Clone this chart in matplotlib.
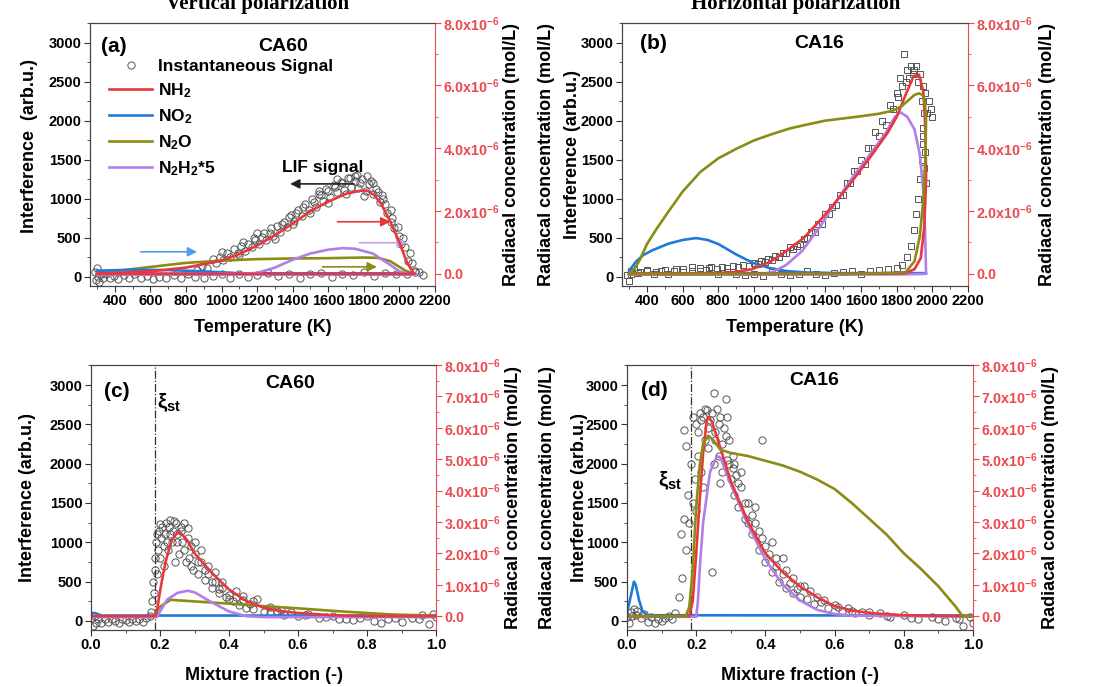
import matplotlib
matplotlib.use('Agg')
import numpy as np
import matplotlib.pyplot as plt
from matplotlib.ticker import MultipleLocator, FuncFormatter
from matplotlib.lines import Line2D

plt.rcParams['font.family'] = ['Liberation Sans', 'DejaVu Sans']
plt.rcParams['font.weight'] = 'bold'
plt.rcParams['axes.labelweight'] = 'bold'
plt.rcParams['mathtext.fontset'] = 'custom'
plt.rcParams['mathtext.rm'] = 'Liberation Sans:bold'
plt.rcParams['mathtext.bf'] = 'Liberation Sans:bold'
plt.rcParams['mathtext.it'] = 'Liberation Sans:bold:italic'
plt.rcParams['mathtext.default'] = 'bf'

UNIT = 1e-6  # radical concentrations below are in 1e-6 mol/L

C_NH2 = '#e8383d'
C_NO2 = '#1f7ad8'
C_N2O = '#8a8c14'
C_N2H2 = '#b27fe6'
C_RIGHT = '#ec4a50'

# ---------------- (a) CA60 vs temperature ----------------
a_sig_T = [290, 295, 300, 305, 310, 320, 335, 350, 370, 395, 420, 450, 480, 510, 545, 580, 615, 650, 690,
           730, 770, 810, 850, 900, 950, 1000, 1050, 1100, 1150, 1200, 1260, 1320, 1380, 1440, 1500, 1560,
           1620, 1680, 1740, 1800, 1860, 1920, 1980, 2040, 2090, 2110, 2130,
           860, 890, 920, 950, 970, 990, 1010, 1030, 1050, 1070, 1090, 1110, 1130, 1150, 1170, 1190, 1210,
           1230, 1250, 1270, 1290, 1310, 1330, 1350, 1370, 1390, 1410, 1430, 1450, 1470, 1490, 1510, 1530,
           1550, 1570, 1590, 1610, 1630, 1650, 1670, 1690, 1710, 1730, 1750, 1770, 1790, 1810, 1830, 1850,
           1870, 1890, 1910, 1930, 1950, 1970, 1990, 2010, 2030, 2050, 2070, 2090,
           1000, 1100, 1200, 1300, 1400, 1500, 1550, 1600, 1650, 1700, 1750, 1800, 1850, 1900, 1950, 2000,
           1120, 1180, 1240, 1280, 1340, 1380, 1420, 1460, 1520, 1560, 1600, 1640, 1680, 1720, 1760, 1780,
           1820, 1840, 1880, 1920, 1960, 2020, 2060]
a_sig_S = [60, -40, 110, 0, -70, 30, -20, 40, -10, 10, -30, 20, -20, 30, -10, 10, -30, 0, -20,
           20, -10, 30, 0, -20, 10, 30, -10, 40, 0, 20, 50, 10, 40, -10, 30, 50,
           0, 40, 20, 60, 10, 50, 30, 40, 80, 60, 20,
           90, 140, 110, 230, 180, 260, 210, 300, 260, 350, 300, 390, 330, 420, 380, 470, 420,
           510, 470, 560, 520, 650, 580, 700, 640, 790, 720, 860, 780, 930, 850, 1000, 900,
           1060, 970, 1120, 1020, 1170, 1080, 1220, 1110, 1260, 1150, 1230, 1140, 1250, 1100, 1190, 1060,
           1130, 960, 1000, 820, 850, 620, 640, 420, 380, 200, 180, 60,
           320, 280, 560, 480, 680, 820, 1100, 950, 1250, 1060, 1290, 1030, 1200, 1050, 700, 520,
           440, 500, 560, 620, 680, 760, 820, 900, 960, 1050, 1100, 1150, 1200, 1270, 1300, 1200,
           1290, 1230, 1080, 930, 750, 500, 300]

a_nh2_T = [300, 600, 800, 1000, 1100, 1200, 1300, 1400, 1500, 1600, 1700, 1780, 1820, 1860, 1900, 1950,
           2000, 2040, 2070, 2085, 1500, 300]
a_nh2_R = [0.0, 0.08, 0.2, 0.42, 0.63, 0.9, 1.23, 1.6, 2.0, 2.3, 2.55, 2.65, 2.65, 2.5, 2.2, 1.65,
           1.0, 0.4, 0.1, 0.0, 0.0, 0.0]
a_no2_T = [300, 500, 700, 900, 1100, 1300, 2085, 300]
a_no2_R = [0.1, 0.13, 0.12, 0.08, 0.02, 0.0, 0.0, 0.0]
a_n2o_T = [300, 450, 600, 800, 1000, 1200, 1400, 1600, 1800, 1880, 1950, 2000, 2050, 2085, 300]
a_n2o_R = [0.02, 0.12, 0.22, 0.35, 0.42, 0.47, 0.49, 0.5, 0.52, 0.51, 0.4, 0.22, 0.05, 0.0, 0.0]
a_n2h2_T = [300, 1100, 1200, 1300, 1400, 1500, 1600, 1680, 1750, 1850, 1950, 2000, 2050, 2100, 300]
a_n2h2_R = [0.0, 0.0, 0.03, 0.2, 0.45, 0.65, 0.77, 0.82, 0.8, 0.65, 0.28, 0.08, 0.0, -0.02, -0.02]

# ---------------- (b) CA16 vs temperature ----------------
b_sig_T = [290, 300, 310, 330, 360, 400, 440, 480, 520, 560, 600, 650, 700, 750, 800, 850, 900, 950, 1000,
           1050, 1100, 1150, 1200, 1250, 1300, 1350, 1400, 1450, 1500, 1550, 1600, 1650, 1700, 1750, 1800,
           1830, 1860, 1880, 1900, 1910, 1920, 1930, 1940, 1945, 1950, 1955,
           2000, 1990, 1980, 1970, 1960, 1950, 1940, 1930, 1920, 1910, 1900, 1890, 1880, 1870, 1860, 1850,
           1840, 1830, 1820, 1810, 1800, 1780, 1760, 1740, 1720, 1700, 1680, 1660, 1640, 1620, 1600, 1580,
           1560, 1540, 1520, 1500, 1480, 1460, 1440, 1420, 1400, 1380, 1360, 1340, 1320, 1300, 1280, 1260,
           1240, 1220, 1200, 1180, 1160, 1140, 1120, 1100, 1080, 1060, 1040, 1020, 1000, 970, 940, 910, 880,
           850, 820, 790, 760, 730, 700, 650, 600, 550, 500, 450, 400, 350, 310,
           1965, 1960, 1955, 1945]
b_sig_S = [20, -60, 80, 100, 60, 90, 30, 80, 40, 100, 60, 120, 80, 110, 40, 60, 30, 20, 40,
           10, 60, 40, 20, 30, 70, 40, 20, 50, 60, 80, 40, 70, 90, 100, 110,
           150, 250, 400, 600, 800, 1000, 1250, 1500, 1700, 1900, 2100,
           2050, 2150, 2250, 2100, 2350, 2450, 2250, 2600, 2500, 2700, 2650, 2600, 2700, 2550, 2650, 2500,
           2850, 2450, 2550, 2300, 2350, 2150, 2200, 1950, 2000, 1800, 1850, 1650, 1650, 1450, 1500, 1350,
           1350, 1200, 1200, 1050, 1050, 920, 900, 800, 800, 680, 680, 580, 580, 500, 480, 420,
           400, 350, 380, 300, 300, 260, 270, 220, 230, 190, 200, 160, 180, 140, 150, 120, 140,
           110, 130, 100, 120, 90, 110, 80, 100, 70, 90, 60, 80, 50, 30,
           1200, 1600, 1400, 1800]

b_nh2_T = [300, 1000, 1600, 1850, 1900, 1935, 1955, 1965, 1962, 1950, 1925, 1895, 1850, 1800, 1750, 1650,
           1550, 1460, 1370, 1280, 1180, 1090, 990, 900, 800, 600, 300]
b_nh2_R = [0.0, 0.0, 0.0, 0.02, 0.15, 0.5, 1.5, 3.0, 4.5, 5.8, 6.35, 6.3, 5.7, 5.0, 4.5, 3.7,
           2.95, 2.3, 1.7, 1.15, 0.72, 0.38, 0.15, 0.06, 0.02, 0.0, 0.0]
b_no2_T = [300, 340, 380, 430, 520, 600, 675, 740, 800, 900, 990, 1085, 1180, 1300, 1500, 1965, 1500, 1000, 300]
b_no2_R = [0.1, 0.4, 0.6, 0.75, 0.96, 1.08, 1.14, 1.08, 0.95, 0.62, 0.36, 0.19, 0.09, 0.04, 0.02, 0.02,
           0.02, 0.02, 0.02]
b_n2o_T = [300, 1000, 1600, 1850, 1900, 1930, 1950, 1962, 1965, 1958, 1945, 1925, 1900, 1870, 1830,
           1780, 1700, 1600, 1500, 1400, 1300, 1200, 1100, 1000, 900, 800, 700, 600, 520, 450, 400, 360,
           330, 300]
b_n2o_R = [0.0, 0.0, 0.0, 0.05, 0.4, 1.2, 2.4, 3.8, 5.0, 5.5, 5.7, 5.75, 5.7, 5.55, 5.35,
           5.2, 5.1, 5.02, 4.95, 4.88, 4.76, 4.63, 4.45, 4.25, 3.98, 3.68, 3.25, 2.62, 1.98, 1.4, 0.95, 0.45,
           0.15, 0.02]
b_n2h2_T = [300, 1000, 1050, 1100, 1180, 1270, 1370, 1460, 1550, 1650, 1740, 1790, 1820, 1860, 1900,
            1930, 1950, 1960, 1965, 1800, 300]
b_n2h2_R = [-0.02, -0.02, 0.0, 0.05, 0.28, 0.73, 1.5, 2.3, 3.05, 3.8, 4.5, 5.0, 5.15, 5.0, 4.6,
            3.8, 2.6, 1.2, 0.0, -0.02, -0.02]

# ---------------- (c) CA60 vs mixture fraction ----------------
c_sig_Z = [0.0, 0.005, 0.01, 0.015, 0.02, 0.03, 0.04, 0.05, 0.06, 0.07, 0.08, 0.09, 0.1, 0.11, 0.12, 0.13,
           0.14, 0.15, 0.16, 0.17, 0.175,
           0.178, 0.18, 0.182, 0.184, 0.186, 0.188, 0.19, 0.193, 0.196, 0.2, 0.203, 0.206, 0.21, 0.214, 0.218,
           0.222, 0.226, 0.23, 0.234, 0.238, 0.242, 0.246, 0.25, 0.255, 0.26, 0.265, 0.27, 0.275, 0.28, 0.285,
           0.29, 0.295, 0.3, 0.31, 0.32, 0.33, 0.34, 0.35, 0.36, 0.37, 0.38, 0.39, 0.4, 0.41, 0.42, 0.43, 0.44,
           0.45, 0.46, 0.47, 0.48, 0.5, 0.52, 0.54, 0.56, 0.58, 0.6, 0.63, 0.66, 0.7, 0.74, 0.78, 0.82, 0.86,
           0.9, 0.93, 0.96, 0.98, 1.0,
           0.21, 0.23, 0.25, 0.27, 0.29, 0.31, 0.33, 0.35, 0.37, 0.4,
           0.19, 0.2, 0.22, 0.24, 0.26, 0.28, 0.3, 0.32, 0.34, 0.36, 0.38, 0.42, 0.44, 0.47, 0.52, 0.55,
           0.62, 0.68, 0.72, 0.76, 0.8, 0.84, 0.88, 0.95, 0.99]
c_sig_S = [40, -60, 60, -20, 30, -30, 20, -10, 30, 0, -20, 20, 10, -10, 30, 0,
           20, -10, 40, 60, 120,
           250, 500, 350, 800, 650, 1000, 600, 900, 1150, 800, 1050, 1200, 700, 1100, 1250,
           900, 1200, 1280, 1000, 1150, 750, 1250, 1100, 850, 1200, 1000, 1240, 750, 1050, 800,
           950, 650, 850, 600, 750, 520, 600, 420, 500, 350, 420, 300, 330, 250, 300, 200, 260,
           170, 220, 150, 280, 120, 100, 130, 80, 110, 60, 90, 40, 60, 20, 40, 0, 30,
           -10, 40, 80, -40, 50,
           950, 1100, 1000, 900, 700, 750, 650, 500, 400, 280,
           1100, 1230, 1000, 1270, 1150, 1180, 1000, 900, 700, 620, 500, 380, 320, 250, 180, 140,
           70, 50, 30, 10, 60, -20, 40, 20, 90]

c_nh2_Z = [0.0, 0.185, 0.19, 0.2, 0.21, 0.22, 0.235, 0.25, 0.26, 0.28, 0.3, 0.35, 0.4, 0.45, 0.5, 0.55, 0.6, 0.7, 0.8, 1.0]
c_nh2_R = [0.0, 0.0, 0.1, 0.8, 1.4, 1.9, 2.45, 2.65, 2.65, 2.4, 2.0, 1.38, 0.85, 0.48, 0.27, 0.16, 0.1, 0.03, 0.0, 0.0]
c_no2_Z = [0.0, 0.01, 0.02, 0.03, 1.0]
c_no2_R = [0.1, 0.1, 0.06, 0.02, 0.02]
c_n2o_Z = [0.0, 0.18, 0.2, 0.23, 0.3, 0.4, 0.5, 0.6, 0.7, 0.8, 0.88, 1.0]
c_n2o_R = [0.0, 0.0, 0.3, 0.52, 0.47, 0.4, 0.32, 0.25, 0.17, 0.1, 0.05, 0.02]
c_n2h2_Z = [0.0, 0.19, 0.2, 0.22, 0.25, 0.28, 0.3, 0.35, 0.4, 0.45, 0.5, 1.0]
c_n2h2_R = [-0.03, -0.03, 0.15, 0.52, 0.74, 0.81, 0.76, 0.44, 0.15, 0.0, -0.03, -0.03]

# ---------------- (d) CA16 vs mixture fraction ----------------
d_sig_Z = [0.0, 0.005, 0.01, 0.015, 0.02, 0.025, 0.03, 0.04, 0.05, 0.06, 0.07, 0.08, 0.09, 0.1, 0.11, 0.12,
           0.13, 0.14, 0.15, 0.155, 0.16, 0.165, 0.17, 0.175, 0.18, 0.185, 0.19, 0.165, 0.17,
           0.19, 0.195, 0.2, 0.205, 0.21, 0.215, 0.22, 0.225, 0.23, 0.235, 0.24, 0.245, 0.25, 0.255, 0.26,
           0.265, 0.27, 0.275, 0.28, 0.285, 0.29, 0.295, 0.3, 0.305, 0.31, 0.315, 0.32, 0.33, 0.34, 0.35, 0.36,
           0.37, 0.38, 0.39, 0.4, 0.41, 0.42, 0.43, 0.44, 0.45, 0.46, 0.47, 0.48, 0.49, 0.5, 0.52, 0.54, 0.56,
           0.58, 0.6, 0.62, 0.64, 0.66, 0.68, 0.7, 0.73, 0.76, 0.8, 0.84, 0.88, 0.92, 0.95, 0.97, 0.99, 1.0,
           0.2, 0.22, 0.25, 0.27, 0.29, 0.31, 0.33, 0.35, 0.37, 0.39, 0.42, 0.45, 0.48, 0.51, 0.55,
           0.205, 0.215, 0.225, 0.235, 0.245, 0.255, 0.265, 0.275, 0.285, 0.295, 0.305, 0.32, 0.34, 0.36,
           0.38, 0.4, 0.43, 0.46, 0.5, 0.53, 0.57, 0.61, 0.65, 0.7, 0.75, 0.82, 0.9, 0.96]
d_sig_S = [50, -20, 120, 60, 150, 80, 130, 40, 90, -10, 50, -30, 30, 0, 40, 60,
           20, 100, 300, 1100, 550, 1300, 900, 1600, 1250, 2000, 1500, 2430, 2220,
           2600, 1800, 2500, 2100, 2650, 1900, 2600, 2300, 2680, 2200, 2550, 620, 2900, 2400, 2700,
           2100, 2600, 1900, 2450, 2820, 2050, 2300, 1800, 2100, 1600, 1850, 1450, 1700, 1300, 1500, 1100,
           1250, 900, 1050, 750, 850, 620, 700, 500, 600, 420, 480, 350, 400, 300, 280, 220, 240,
           170, 200, 130, 160, 100, 120, 80, 100, 50, 70, 20, 50, 0, 40, -60, 50, -20,
           1400, 1700, 2000, 1750, 2600, 2000, 1900, 1250, 1450, 2300, 1000, 800, 550, 450, 300,
           2400, 2550, 2700, 2450, 2650, 2300, 2500, 2250, 2350, 2000, 1950, 1750, 1500, 1350,
           1150, 950, 800, 650, 450, 380, 260, 180, 130, 110, 60, 40, 20, 30]

d_nh2_Z = [0.0, 0.18, 0.19, 0.2, 0.21, 0.22, 0.23, 0.235, 0.245, 0.26, 0.3, 0.35, 0.4, 0.45, 0.5, 0.55,
           0.6, 0.65, 0.7, 0.8, 1.0]
d_nh2_R = [0.0, 0.0, 0.5, 2.0, 3.7, 5.2, 6.2, 6.35, 6.2, 5.7, 4.3, 3.0, 2.0, 1.4, 0.95, 0.6,
           0.32, 0.18, 0.1, 0.03, 0.0]
d_no2_Z = [0.0, 0.01, 0.02, 0.025, 0.035, 0.045, 0.06, 1.0]
d_no2_R = [0.1, 0.6, 1.1, 1.0, 0.5, 0.15, 0.03, 0.02]
d_n2o_Z = [0.0, 0.17, 0.18, 0.19, 0.2, 0.21, 0.22, 0.235, 0.25, 0.27, 0.3, 0.35, 0.4, 0.45, 0.5, 0.55,
           0.6, 0.65, 0.7, 0.75, 0.8, 0.85, 0.9, 0.95, 0.97, 1.0]
d_n2o_R = [0.0, 0.0, 0.3, 1.5, 3.5, 4.8, 5.5, 5.75, 5.6, 5.3, 5.2, 5.1, 4.95, 4.8, 4.6, 4.35,
           4.05, 3.6, 3.1, 2.6, 2.0, 1.5, 0.95, 0.3, 0.0, 0.0]
d_n2h2_Z = [0.0, 0.2, 0.205, 0.21, 0.22, 0.24, 0.26, 0.27, 0.3, 0.35, 0.4, 0.45, 0.5, 0.55, 0.6, 0.65, 1.0]
d_n2h2_R = [-0.02, -0.02, 0.5, 1.5, 3.0, 4.6, 5.1, 5.05, 4.2, 2.9, 1.8, 1.0, 0.5, 0.2, 0.07, 0.02, -0.02]

XI_ST = 0.185


def conc_fmt(v, pos):
    if abs(v) < 1e-12:
        return '0.0'
    return '%.1fx10$^{-6}$' % (v / UNIT)


fig = plt.figure(figsize=(10.97, 6.87), dpi=100)
boxes = {'a': [0.082, 0.584, 0.3145, 0.383], 'b': [0.567, 0.584, 0.3154, 0.383],
         'c': [0.083, 0.083, 0.3145, 0.3857], 'd': [0.5716, 0.083, 0.3154, 0.3857]}
LBL = 13


def make_panel(key, xlim, xmaj, xmin, rmaj, rmin, rbot):
    ax = fig.add_axes(boxes[key])
    ax2 = ax.twinx()
    ax.set_xlim(*xlim)
    ax.set_ylim(-115, 3255)
    ax2.set_ylim(rbot * UNIT, 8.001 * UNIT)
    ax.xaxis.set_major_locator(MultipleLocator(xmaj))
    ax.xaxis.set_minor_locator(MultipleLocator(xmin))
    ax.yaxis.set_major_locator(MultipleLocator(500))
    ax.yaxis.set_minor_locator(MultipleLocator(250))
    ax2.yaxis.set_major_locator(MultipleLocator(rmaj * UNIT))
    ax2.yaxis.set_minor_locator(MultipleLocator(rmin * UNIT))
    ax2.yaxis.set_major_formatter(FuncFormatter(conc_fmt))
    ax.tick_params(axis='both', which='major', labelsize=10.5, length=4, width=0.8,
                   direction='out', colors='#333333', labelcolor='black', pad=2)
    ax.tick_params(axis='both', which='minor', length=2.5, width=0.6, direction='out', colors='#333333')
    ax2.tick_params(axis='x', which='both', top=True, bottom=False, labeltop=False,
                    direction='in', colors='#333333')
    ax2.tick_params(axis='y', which='major', labelsize=10.3, length=4, width=0.8,
                    colors=C_RIGHT, labelcolor=C_RIGHT, pad=2)
    ax2.tick_params(axis='y', which='minor', length=2.5, width=0.6, colors=C_RIGHT)
    for s in ['left', 'top', 'bottom']:
        ax.spines[s].set_color('#444444')
        ax2.spines[s].set_color('#444444')
    ax.spines['right'].set_visible(False)
    ax2.spines['right'].set_color(C_RIGHT)
    return ax, ax2


def draw_lines(ax2, series):
    for xs, rs, col in series:
        ax2.plot(xs, np.array(rs) * UNIT, color=col, lw=1.9, solid_joinstyle='round')


sig_style = dict(ls='none', mfc='none', mec='#555555', ms=5.2, mew=0.7)

# (a)
axa, axa2 = make_panel('a', (260, 2200), 200, 100, 2, 1, -0.38)
axa.plot(a_sig_T, a_sig_S, marker='o', **sig_style)
draw_lines(axa2, [(a_n2o_T, a_n2o_R, C_N2O), (a_no2_T, a_no2_R, C_NO2),
                  (a_n2h2_T, a_n2h2_R, C_N2H2), (a_nh2_T, a_nh2_R, C_NH2)])
axa.set_xlabel('Temperature (K)', fontsize=LBL)
axa.xaxis.set_label_coords(0.5, -0.125)
axa.set_ylabel('Interference  (arb.u.)', fontsize=LBL)
axa.yaxis.set_label_coords(-0.151, 0.53)
axa2.set_ylabel('Radiacal concentration (mol/L)', fontsize=LBL)
axa2.yaxis.set_label_coords(1.197, 0.5)
axa.text(0.07, 0.91, '(a)', transform=axa.transAxes, fontsize=15, ha='center', va='center')
axa.text(0.56, 0.91, 'CA60', transform=axa.transAxes, fontsize=14, ha='center', va='center')

# arrows in (a)
arr = dict(arrowstyle='-|>', lw=1.2, mutation_scale=14)
axa.annotate('', xy=(1370, 1190), xytext=(1760, 1190), arrowprops=dict(color='#222222', **arr))
axa.text(1570, 1400, 'LIF signal', fontsize=12.5, ha='center', va='center')
axa.annotate('', xy=(1965, 705), xytext=(1636, 705), arrowprops=dict(color='#ec3434', **arr))
axa.annotate('', xy=(2057, 436), xytext=(1760, 436), arrowprops=dict(color='#c8a2ee', **arr))
axa.annotate('', xy=(1889, 128), xytext=(1552, 128), arrowprops=dict(color='#8a8c14', **arr))
axa.annotate('', xy=(878, 320), xytext=(529, 320), arrowprops=dict(color='#4f9fe8', **arr))

handles = [Line2D([], [], marker='o', **sig_style),
           Line2D([], [], color=C_NH2, lw=1.9), Line2D([], [], color=C_NO2, lw=1.9),
           Line2D([], [], color=C_N2O, lw=1.9), Line2D([], [], color=C_N2H2, lw=1.9)]
labels = ['Instantaneous Signal', 'NH$_2$', 'NO$_2$', 'N$_2$O', 'N$_2$H$_2$*5']
axa2.legend(handles, labels, loc='upper left', bbox_to_anchor=(0.03, 0.895), frameon=False,
            fontsize=12.5, handlelength=2.5, handletextpad=0.35, labelspacing=0.42,
            borderpad=0, numpoints=1)

# (b)
axb, axb2 = make_panel('b', (260, 2200), 200, 100, 2, 1, -0.38)
axb.plot(b_sig_T, b_sig_S, marker='s', **dict(sig_style, ms=4.6))
draw_lines(axb2, [(b_no2_T, b_no2_R, C_NO2), (b_n2h2_T, b_n2h2_R, C_N2H2),
                  (b_nh2_T, b_nh2_R, C_NH2), (b_n2o_T, b_n2o_R, C_N2O)])
axb.set_xlabel('Temperature (K)', fontsize=LBL)
axb.xaxis.set_label_coords(0.5, -0.125)
axb.set_ylabel('Interference (arb.u.)', fontsize=LBL)
axb.yaxis.set_label_coords(-0.118, 0.5)
axb.text(-0.217, 0.5, 'Radiacal concentration (mol/L)', transform=axb.transAxes, rotation=90,
         fontsize=LBL, ha='center', va='center')
axb2.set_ylabel('Radiacal concentration (mol/L)', fontsize=LBL)
axb2.yaxis.set_label_coords(1.205, 0.5)
axb.text(0.09, 0.92, '(b)', transform=axb.transAxes, fontsize=15, ha='center', va='center')
axb.text(0.57, 0.92, 'CA16', transform=axb.transAxes, fontsize=14, ha='center', va='center')

# (c)
axc, axc2 = make_panel('c', (0, 1), 0.2, 0.1, 1, 0.5, -0.44)
axc.plot(c_sig_Z, c_sig_S, marker='o', **sig_style)
draw_lines(axc2, [(c_no2_Z, c_no2_R, C_NO2), (c_n2o_Z, c_n2o_R, C_N2O),
                  (c_n2h2_Z, c_n2h2_R, C_N2H2), (c_nh2_Z, c_nh2_R, C_NH2)])
axc.axvline(XI_ST, color='#333333', lw=0.9, ls='-.')
axc.set_xlabel('Mixture fraction (-)', fontsize=LBL)
axc.xaxis.set_label_coords(0.5, -0.14)
axc.set_ylabel('Interference (arb.u.)', fontsize=LBL)
axc.yaxis.set_label_coords(-0.159, 0.5)
axc2.set_ylabel('Radiacal concentration (mol/L)', fontsize=LBL)
axc2.yaxis.set_label_coords(1.2, 0.5)
axc.text(0.075, 0.9, '(c)', transform=axc.transAxes, fontsize=15, ha='center', va='center')
axc.text(0.577, 0.93, 'CA60', transform=axc.transAxes, fontsize=14, ha='center', va='center')
axc.text(0.225, 2780, r'$\xi_{\mathbf{st}}$', fontsize=15, ha='center', va='center')

# (d)
axd, axd2 = make_panel('d', (0, 1), 0.2, 0.1, 1, 0.5, -0.44)
axd.plot(d_sig_Z, d_sig_S, marker='o', **sig_style)
draw_lines(axd2, [(d_no2_Z, d_no2_R, C_NO2), (d_n2h2_Z, d_n2h2_R, C_N2H2),
                  (d_nh2_Z, d_nh2_R, C_NH2), (d_n2o_Z, d_n2o_R, C_N2O)])
axd.axvline(XI_ST, color='#333333', lw=0.9, ls='-.')
axd.set_xlabel('Mixture fraction (-)', fontsize=LBL)
axd.xaxis.set_label_coords(0.5, -0.14)
axd.set_ylabel('Interference (arb.u.)', fontsize=LBL)
axd.yaxis.set_label_coords(-0.113, 0.5)
axd.text(-0.231, 0.5, 'Radiacal concentration (mol/L)', transform=axd.transAxes, rotation=90,
         fontsize=LBL, ha='center', va='center')
axd2.set_ylabel('Radiacal concentration (mol/L)', fontsize=LBL)
axd2.yaxis.set_label_coords(1.2, 0.5)
axd.text(0.08, 0.905, '(d)', transform=axd.transAxes, fontsize=15, ha='center', va='center')
axd.text(0.54, 0.94, 'CA16', transform=axd.transAxes, fontsize=14, ha='center', va='center')
axd.text(0.125, 1780, r'$\xi_{\mathbf{st}}$', fontsize=15, ha='center', va='center')

# column titles, clipped by the top edge as in the source figure
fig.text(0.235, 0.987, 'Vertical polarization', family='Liberation Serif', weight='bold',
         fontsize=15, ha='center', va='baseline')
fig.text(0.725, 0.987, 'Horizontal polarization', family='Liberation Serif', weight='bold',
         fontsize=15, ha='center', va='baseline')

fig.savefig('out.png', dpi=100)
